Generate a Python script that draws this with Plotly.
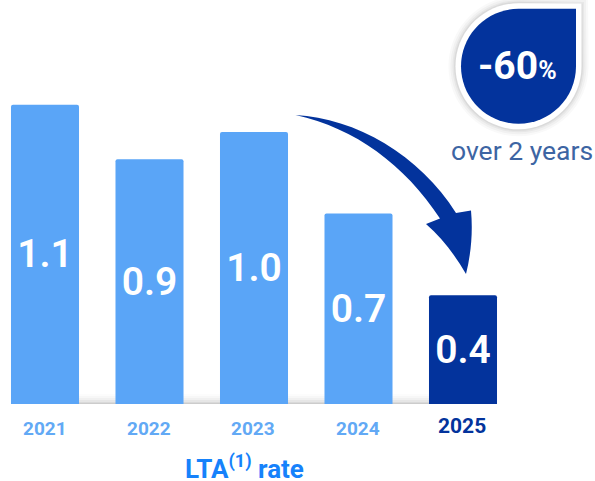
import plotly.graph_objects as go

W, H = 595, 481
years = ["2021", "2022", "2023", "2024", "2025"]
rates = [1.1, 0.9, 1.0, 0.7, 0.4]
rate_labels = ["1.1", "0.9", "1.0", "0.7", "0.4"]
light_blue = "#5aa5f7"
navy = "#03339c"
bar_colors = [light_blue] * 4 + [navy]
year_colors = ["#62a9f5"] * 4 + [navy]

# pixel helpers for the decorative callout shapes
def px(x):
    return x / W

def py(y):
    return 1 - y / H

def path(cmds):
    out = []
    for c in cmds:
        if isinstance(c, str):
            out.append(c)
        else:
            out.append(f"{px(c[0]):.5f},{py(c[1]):.5f}")
    return " ".join(out)

def drop(cx, cy, r, corner_x, corner_y):
    k = 0.5523 * r
    return path([
        "M", (cx, cy - r), "L", (corner_x, corner_y), "L", (cx + r, cy),
        "C", (cx + r, cy + k), (cx + k, cy + r), (cx, cy + r),
        "C", (cx - k, cy + r), (cx - r, cy + k), (cx - r, cy),
        "C", (cx - r, cy - k), (cx - k, cy - r), (cx, cy - r), "Z",
    ])

shapes = []

# soft shadow rising from the baseline, behind the bars
for d, a in [(10, 0.015), (8, 0.025), (6, 0.035), (4, 0.05), (2, 0.07), (1, 0.08)]:
    shapes.append(dict(type="rect", xref="paper", yref="paper", layer="below",
                       x0=px(11), x1=px(497), y0=py(404), y1=py(404 - d),
                       fillcolor=f"rgba(50,50,50,{a})", line_width=0))

# callout badge: shadow, white rim, navy drop
for d, a in [(7, 0.03), (5, 0.04), (3, 0.05), (1.5, 0.07)]:
    shapes.append(dict(type="path", xref="paper", yref="paper", line_width=0,
                       path=drop(518.5, 66.3, 63 + d, 581 + d, 5 - d),
                       fillcolor=f"rgba(50,50,50,{a})"))
shapes.append(dict(type="path", xref="paper", yref="paper", line_width=0,
                   path=drop(518.5, 66.3, 63, 581.5, 3.5), fillcolor="white"))
shapes.append(dict(type="path", xref="paper", yref="paper", line_width=0,
                   path=drop(518.5, 66.3, 57.5, 576, 8.8), fillcolor=navy))

# curved arrow from the 2023 bar down to the 2025 bar
shapes.append(dict(type="path", xref="paper", yref="paper", line_width=0, fillcolor=navy,
                   path=path([
                       "M", (295.5, 115),
                       "C", (355, 118), (420, 155), (456, 213),
                       "L", (471, 210.5),
                       "C", (473, 232), (471, 254), (466, 274),
                       "C", (455, 255), (442, 238), (426, 224),
                       "L", (440, 218.5),
                       "C", (405, 165), (355, 128), (295.5, 115), "Z",
                   ])))

fig = go.Figure(go.Bar(
    x=list(range(5)), y=rates,
    width=0.651,
    marker=dict(color=bar_colors, line_width=0, cornerradius=2),
    text=rate_labels,
    textposition="inside",
    insidetextanchor="middle",
    textangle=0,
    constraintext="none",
    textfont=dict(family="Roboto", size=39, color="white", weight=600),
    hoverinfo="skip",
))

annotations = []
for i, (yr, col) in enumerate(zip(years, year_colors)):
    annotations.append(dict(
        x=i - (0.005 if i else 0), xref="x", y=py(428 if i < 4 else 426), yref="paper", text=f"<b>{yr}</b>",
        showarrow=False, xanchor="center", yanchor="middle",
        font=dict(family="Roboto", size=19 if i < 4 else 21, color=col),
    ))
annotations += [
    dict(x=px(244), y=py(466.5), xref="paper", yref="paper", showarrow=False,
         xanchor="center", yanchor="middle",
         text="<b>LTA<sup>(1)</sup> rate</b>",
         font=dict(family="Roboto", size=26, color="#1682fb")),
    dict(x=px(517.5), y=py(65.5), xref="paper", yref="paper", showarrow=False,
         xanchor="center", yanchor="middle",
         text='<b>-60<span style="font-size:25px">%</span></b>',
         font=dict(family="Roboto", size=39, color="white")),
    dict(x=px(521.5), y=py(150), xref="paper", yref="paper", showarrow=False,
         xanchor="center", yanchor="middle",
         text="over 2 years",
         font=dict(family="Roboto", size=26.5, color="#3d65a3")),
]

fig.update_layout(
    width=W, height=H,
    margin=dict(l=0, r=0, t=0, b=0),
    paper_bgcolor="white", plot_bgcolor="rgba(0,0,0,0)",
    showlegend=False,
    shapes=shapes,
    annotations=annotations,
    xaxis=dict(range=[-45 / 104.5, (W - 45) / 104.5], visible=False, fixedrange=True),
    yaxis=dict(range=[-(H - 404) / 272, 404 / 272], visible=False, fixedrange=True),
)
fig.write_html("out.html", config=dict(displayModeBar=False))
